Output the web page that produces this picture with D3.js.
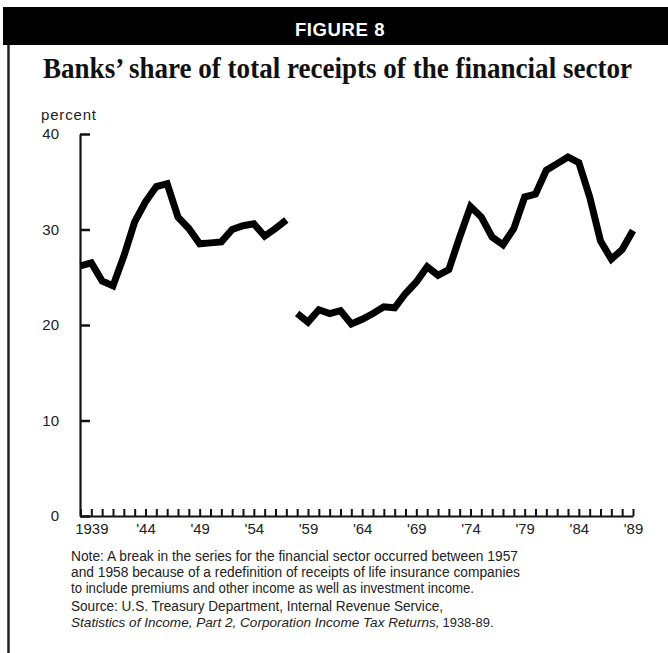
<!DOCTYPE html>
<html>
<head>
<meta charset="utf-8">
<script src="https://cdn.jsdelivr.net/npm/d3@7"></script>
<style>
  html, body { margin: 0; padding: 0; background: #fff; }
  svg { display: block; }
</style>
</head>
<body>
<script>
// ---- Data ----
const years1 = [1938,1939,1940,1941,1942,1943,1944,1945,1946,1947,1948,1949,1950,1951,1952,1953,1954,1955,1956,1957];
const values1 = [26.2,26.5,24.6,24.1,27.2,30.8,32.9,34.5,34.8,31.3,30.1,28.5,28.6,28.7,30.0,30.4,30.6,29.3,30.1,31.0];
const years2 = [1958,1959,1960,1961,1962,1963,1964,1965,1966,1967,1968,1969,1970,1971,1972,1973,1974,1975,1976,1977,1978,1979,1980,1981,1982,1983,1984,1985,1986,1987,1988,1989];
const values2 = [21.2,20.3,21.6,21.2,21.5,20.1,20.6,21.2,21.9,21.8,23.3,24.5,26.1,25.2,25.8,29.2,32.4,31.3,29.2,28.4,30.1,33.4,33.7,36.2,36.9,37.6,37.0,33.4,28.8,26.9,27.9,29.9];
const tickYears = [1938,1939,1940,1941,1942,1943,1944,1945,1946,1947,1948,1949,1950,1951,1952,1953,1954,1955,1956,1957,1958,1959,1960,1961,1962,1963,1964,1965,1966,1967,1968,1969,1970,1971,1972,1973,1974,1975,1976,1977,1978,1979,1980,1981,1982,1983,1984,1985,1986,1987,1988,1989];
const labelYears = [1939,1944,1949,1954,1959,1964,1969,1974,1979,1984,1989];
const labelTexts = ["1939","'44","'49","'54","'59","'64","'69","'74","'79","'84","'89"];
const yTicks = [0,10,20,30,40];

const headerText = "FIGURE 8";
const titleText = "Banks\u2019 share of total receipts of the financial sector";
const unitText = "percent";
const noteLines = [
  "Note: A break in the series for the financial sector occurred between 1957",
  "and 1958 because of a redefinition of receipts of life insurance companies",
  "to include premiums and other income as well as investment income.",
  "Source: U.S. Treasury Department, Internal Revenue Service,"
];
const sourceItalic = "Statistics of Income, Part 2, Corporation Income Tax Returns,";
const sourceTail = "1938-89.";

// ---- Setup ----
const W = 668, H = 653;
const svg = d3.select("body").append("svg").attr("width", W).attr("height", H);
const sans = "'Liberation Sans', Arial, Helvetica, sans-serif";
const serif = "'Liberation Serif', 'Times New Roman', serif";

svg.append("rect").attr("width", W).attr("height", H).attr("fill", "#fff");

// Header bar
svg.append("rect").attr("x", 3).attr("y", 7).attr("width", W - 3).attr("height", 38).attr("fill", "#000");
svg.append("text").attr("x", 340).attr("y", 36).attr("text-anchor", "middle")
  .attr("fill", "#fff").attr("font-family", sans).attr("font-weight", "bold")
  .attr("font-size", 18.5).attr("letter-spacing", 0.6).text(headerText);

// Left border
svg.append("line").attr("x1", 8.5).attr("x2", 8.5).attr("y1", 45).attr("y2", H)
  .attr("stroke", "#222").attr("stroke-width", 2.5);

// Title
svg.append("text").attr("x", 43).attr("y", 78)
  .attr("font-family", serif).attr("font-weight", "bold").attr("font-size", 28.5)
  .attr("textLength", 589).attr("lengthAdjust", "spacingAndGlyphs")
  .attr("fill", "#111").text(titleText);

// Scales
const x = d3.scaleLinear().domain([1938, 1989]).range([80.5, 633]);
const y = d3.scaleLinear().domain([0, 40]).range([516, 134]);

// Unit label
svg.append("text").attr("x", 41).attr("y", 120).attr("font-family", sans)
  .attr("font-size", 15).attr("textLength", 55).attr("fill", "#222").text(unitText);

// Y axis
const yAxis = d3.axisLeft(y).tickValues(yTicks).tickSizeInner(-10).tickSizeOuter(0).tickPadding(21);
const gy = svg.append("g").attr("transform", "translate(80,0)").call(yAxis);
gy.select(".domain").attr("stroke", "#111").attr("stroke-width", 2.2);
gy.selectAll(".tick line").attr("stroke", "#111").attr("stroke-width", 2.5);
gy.selectAll(".tick text").attr("font-family", sans).attr("font-size", 15).attr("fill", "#222");

// X axis
const labelMap = new Map(labelYears.map((yr, i) => [yr, labelTexts[i]]));
const xAxis = d3.axisBottom(x).tickValues(tickYears).tickSizeInner(-7).tickSizeOuter(0)
  .tickPadding(7.5).tickFormat(d => labelMap.get(d) || "");
const gx = svg.append("g").attr("transform", "translate(0,516)").call(xAxis);
gx.select(".domain").attr("stroke", "#111").attr("stroke-width", 2.2);
gx.selectAll(".tick line").attr("stroke", "#111").attr("stroke-width", 2);
gx.selectAll(".tick text").attr("font-family", sans).attr("font-size", 15).attr("fill", "#222");

// Lines
const line = d3.line().x(d => x(d[0])).y(d => y(d[1]));
const seg1 = years1.map((yr, i) => [yr, values1[i]]);
const seg2 = years2.map((yr, i) => [yr, values2[i]]);
[seg1, seg2].forEach(seg => {
  svg.append("path").datum(seg).attr("d", line)
    .attr("fill", "none").attr("stroke", "#000").attr("stroke-width", 7)
    .attr("stroke-linejoin", "miter").attr("stroke-miterlimit", 3).attr("stroke-linecap", "butt");
});

// Notes
const noteWidths = [447, 449, 403, 372];
const noteY = [561, 577, 593, 611];
noteLines.forEach((t, i) => {
  svg.append("text").attr("x", 71).attr("y", noteY[i]).attr("font-family", sans)
    .attr("font-size", 14).attr("fill", "#222")
    .attr("textLength", noteWidths[i]).attr("lengthAdjust", "spacingAndGlyphs").text(t);
});
// Source line: fit by font size so natural widths match
function fitText(sel, target, base) {
  const w = sel.node().getComputedTextLength();
  sel.attr("font-size", base * target / w);
  return sel.node().getComputedTextLength();
}
const it = svg.append("text").attr("x", 71).attr("y", 627).attr("font-family", sans)
  .attr("font-size", 14).attr("font-style", "italic").attr("fill", "#222").text(sourceItalic);
const itW = fitText(it, 369, 14);
const tail = svg.append("text").attr("x", 71 + itW + 3).attr("y", 627).attr("font-family", sans)
  .attr("font-size", 14).attr("fill", "#222").text(sourceTail);
fitText(tail, 51, 14);
</script>
</body>
</html>
